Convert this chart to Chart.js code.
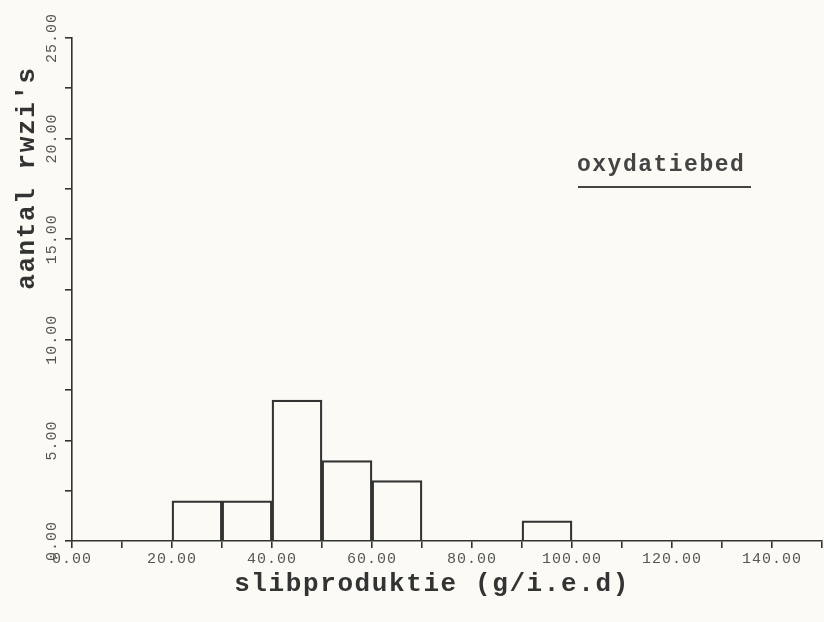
<!DOCTYPE html>
<html>
<head>
<meta charset="utf-8">
<script src="https://cdn.jsdelivr.net/npm/chart.js@4"></script>
<style>
  html, body { margin: 0; padding: 0; background: #fbfaf5; }
  canvas { display: block; }
</style>
</head>
<body>
<canvas id="histo" width="824" height="622"></canvas>
<script>
// klassen (midden van elke klasse van 10 g/i.e.d) en aantallen
const klasMidden = [25, 35, 45, 55, 65, 95];
const aantallen = [2, 2, 7, 4, 3, 1];
const xBereik = [0, 150];
const yBereik = [0, 25];
const xTitel = 'slibproduktie (g/i.e.d)';
const yTitel = "aantal rwzi's";
const label = 'oxydatiebed';

const inkt = '#333';
const mono = '"Liberation Mono", "DejaVu Sans Mono", monospace';

// typemachine-tekst: iets meer ruimte tussen de letters
const spatie = {
  id: 'spatie',
  beforeDraw(chart){ chart.ctx.letterSpacing = '1px'; }
};

// titels en het label rechtsboven
const teksten = {
  id: 'teksten',
  afterDraw(chart){
    const ctx = chart.ctx;
    ctx.save();
    ctx.fillStyle = inkt;
    ctx.font = 'bold 26px ' + mono;
    ctx.letterSpacing = '1.6px';
    ctx.textAlign = 'center';
    ctx.textBaseline = 'middle';
    ctx.fillText(xTitel, 432, 584);

    ctx.save();
    ctx.translate(27, 178);
    ctx.rotate(-Math.PI / 2);
    ctx.fillText(yTitel, 0, 0);
    ctx.restore();

    ctx.font = 'bold 23px ' + mono;
    ctx.letterSpacing = '1.5px';
    ctx.textAlign = 'left';
    ctx.fillStyle = '#444';
    ctx.fillText(label, 577, 165);
    ctx.strokeStyle = '#444';
    ctx.lineWidth = 2;
    ctx.beginPath();
    ctx.moveTo(578, 187);
    ctx.lineTo(751, 187);
    ctx.stroke();
    ctx.restore();
  }
};

new Chart(document.getElementById('histo'), {
  type: 'bar',
  data: {
    datasets: [{
      data: klasMidden.map((x, i) => ({ x: x, y: aantallen[i] })),
      backgroundColor: 'rgba(0,0,0,0)',
      borderColor: inkt,
      borderWidth: 1.6,
      borderSkipped: 'bottom',
      barPercentage: 1,
      categoryPercentage: 1
    }]
  },
  options: {
    responsive: false,
    animation: false,
    layout: { padding: { top: 38, right: 2, left: 0, bottom: 0 } },
    plugins: { legend: { display: false }, tooltip: { enabled: false } },
    scales: {
      x: {
        type: 'linear',
        min: xBereik[0],
        max: xBereik[1],
        offset: false,
        border: { color: inkt, width: 1.6 },
        grid: { offset: false, drawOnChartArea: false, drawTicks: true, tickLength: 7, color: inkt, lineWidth: 1.6 },
        ticks: {
          stepSize: 10,
          autoSkip: false,
          maxRotation: 0,
          padding: 2,
          color: '#555',
          font: { family: mono, size: 15 },
          callback: v => (v % 20 === 0 && v <= 140) ? v.toFixed(2) : ''
        },
        afterFit: s => { s.height = 81; s.paddingLeft = 0; s.paddingRight = 0; }
      },
      y: {
        min: yBereik[0],
        max: yBereik[1],
        border: { color: inkt, width: 1.6 },
        grid: { drawOnChartArea: false, drawTicks: true, tickLength: 7, color: inkt, lineWidth: 1.6 },
        ticks: {
          stepSize: 2.5,
          autoSkip: false,
          minRotation: 90,
          maxRotation: 90,
          crossAlign: 'center',
          padding: -10,
          color: '#555',
          font: { family: mono, size: 15 },
          callback: v => (v % 5 === 0) ? v.toFixed(2) : ''
        },
        afterFit: s => { s.width = 72; s.paddingTop = 0; s.paddingBottom = 0; }
      }
    }
  },
  plugins: [spatie, teksten]
});
</script>
</body>
</html>
